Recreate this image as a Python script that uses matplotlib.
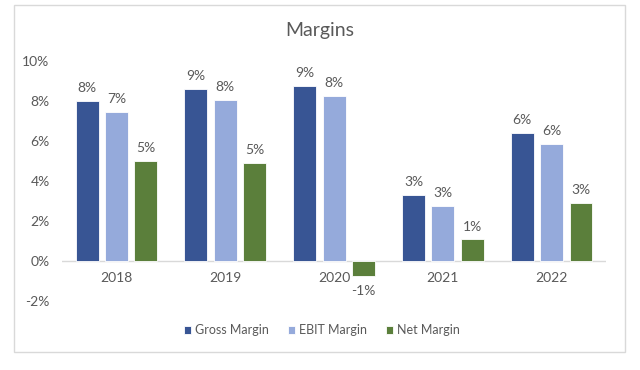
import numpy as np
import matplotlib
matplotlib.use("Agg")
import matplotlib.pyplot as plt
from matplotlib.patches import Rectangle
from matplotlib.ticker import FuncFormatter

plt.rcParams["font.family"] = ["Lato", "DejaVu Sans"]

years = ["2018", "2019", "2020", "2021", "2022"]
gross_margin = [8.0, 8.6, 8.77, 3.32, 6.42]
ebit_margin = [7.47, 8.07, 8.27, 2.77, 5.87]
net_margin = [5.02, 4.92, -0.77, 1.07, 2.92]

series = [("Gross Margin", gross_margin, "#385594"),
          ("EBIT Margin", ebit_margin, "#95AADB"),
          ("Net Margin", net_margin, "#5B7F3B")]

TXT = "#595959"

fig = plt.figure(figsize=(6.4, 3.7), dpi=100)
fig.patch.set_facecolor("white")

# outer chart border
fig.patches.append(Rectangle((0.022, 0.049), 0.955, 0.938, transform=fig.transFigure,
                             fill=False, edgecolor="#D9D9D9", lw=1.0))

ax = fig.add_axes([0.097, 0.187, 0.85, 0.648])
x = np.arange(len(years))
width = 0.21
step = 0.27

handles = []
for i, (name, vals, color) in enumerate(series):
    pos = x + (i - 1) * step
    bars = ax.bar(pos, vals, width, color=color, edgecolor="white", lw=0.6, label=name)
    handles.append(bars)
    for px, v in zip(pos, vals):
        off = 5 if v >= 0 else -6
        ax.annotate(f"{round(v):.0f}%", (px, v), xytext=(0, off), textcoords="offset points",
                    ha="center", va="bottom" if v >= 0 else "top", fontsize=10, color=TXT)

ax.set_xlim(-0.5, len(years) - 0.5)
ax.set_ylim(-2, 10)
ax.set_yticks(np.arange(-2, 11, 2))
ax.yaxis.set_major_formatter(FuncFormatter(lambda v, _: f"{v:.0f}%"))
ax.tick_params(axis="y", length=0, pad=9, labelsize=10, labelcolor=TXT)
ax.set_xticks([])
for s in ax.spines.values():
    s.set_visible(False)
ax.axhline(0, color="#D9D9D9", lw=1.0, zorder=0)

# category labels sit just under the zero line
for xi, yr in zip(x, years):
    ax.annotate(yr, (xi, 0), xytext=(0, -8), textcoords="offset points",
                ha="center", va="top", fontsize=10, color=TXT)

fig.text(0.5, 0.918, "Margins", ha="center", va="center", fontsize=14, color=TXT)

leg = fig.legend(handles=handles, loc="center", bbox_to_anchor=(0.503, 0.108), ncol=3,
                 frameon=False, fontsize=9, handlelength=0.6, handleheight=0.6,
                 handletextpad=0.3, columnspacing=1.5)
for t in leg.get_texts():
    t.set_color(TXT)

fig.savefig("out.png", dpi=100)
